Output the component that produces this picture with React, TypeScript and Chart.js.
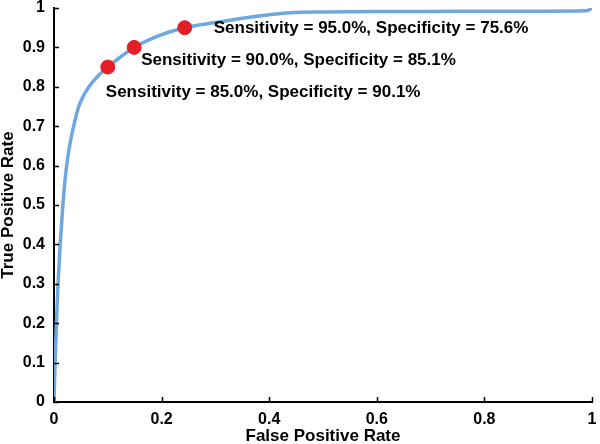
import React, { useEffect, useRef } from "react";
import { Chart, registerables } from "chart.js";

Chart.register(...registerables);

const fpr = [0, 0.001, 0.002, 0.0045, 0.0075, 0.0115, 0.0165, 0.0195, 0.0235, 0.029, 0.0365, 0.046, 0.054, 0.065, 0.08, 0.1, 0.123, 0.149, 0.195, 0.243, 0.3, 0.36, 0.4, 0.44, 0.5, 0.6, 0.7, 0.8, 0.9, 0.99, 1];
const tpr = [0, 0.05, 0.1, 0.2, 0.3, 0.4, 0.5, 0.55, 0.6, 0.65, 0.7, 0.75, 0.775, 0.8, 0.825, 0.85, 0.875, 0.9, 0.93, 0.95, 0.963, 0.976, 0.983, 0.988, 0.99, 0.991, 0.991, 0.992, 0.992, 0.993, 1.0];

const opX = [0.1, 0.149, 0.243];
const opY = [0.85, 0.9, 0.95];
const opLabels = [
  "Sensitivity = 85.0%, Specificity = 90.1%",
  "Sensitivity = 90.0%, Specificity = 85.1%",
  "Sensitivity = 95.0%, Specificity = 75.6%",
];

const xTicks = [0, 0.2, 0.4, 0.6, 0.8, 1];
const yTicks = [0, 0.1, 0.2, 0.3, 0.4, 0.5, 0.6, 0.7, 0.8, 0.9, 1];

const FONT = "'Liberation Sans', Arial, Helvetica, sans-serif";
const labelOffsets = [
  [-2, 25],
  [7, 12.5],
  [29, 1],
];

const annotPlugin = {
  id: "annot",
  afterDatasetsDraw(chart: any) {
    const ctx = chart.ctx;
    const xs = chart.scales.x;
    const ys = chart.scales.y;
    ctx.save();
    ctx.font = `bold 17px ${FONT}`;
    ctx.fillStyle = "#000";
    ctx.textBaseline = "middle";
    ctx.textAlign = "left";
    opLabels.forEach((t, i) => {
      const px = xs.getPixelForValue(opX[i]);
      const py = ys.getPixelForValue(opY[i]);
      ctx.fillText(t, px + labelOffsets[i][0], py + labelOffsets[i][1]);
    });
    ctx.strokeStyle = "#000";
    ctx.lineWidth = 1.5;
    const bottom = chart.chartArea.bottom;
    const left = chart.chartArea.left;
    xTicks.forEach((v) => {
      const p = Math.round(xs.getPixelForValue(v)) + 0.5;
      ctx.beginPath();
      ctx.moveTo(p, bottom);
      ctx.lineTo(p, bottom - 5);
      ctx.stroke();
    });
    yTicks.forEach((v) => {
      const p = Math.round(ys.getPixelForValue(v)) + 0.5;
      ctx.beginPath();
      ctx.moveTo(left, p);
      ctx.lineTo(left + 5, p);
      ctx.stroke();
    });
    ctx.restore();
  },
};

export default function App() {
  const ref = useRef<HTMLCanvasElement>(null);
  useEffect(() => {
    if (!ref.current) return;
    const chart = new Chart(ref.current, {
      type: "scatter",
      data: {
        datasets: [
          {
            label: "Operating points",
            data: opX.map((x, i) => ({ x, y: opY[i] })),
            backgroundColor: "#e41e26",
            borderColor: "#e41e26",
            pointRadius: 7,
            pointHoverRadius: 7,
            showLine: false,
          },
          {
            label: "ROC",
            data: fpr.map((x, i) => ({ x, y: tpr[i] })),
            borderColor: "#6fa8dc",
            backgroundColor: "#6fa8dc",
            borderWidth: 3.5,
            pointRadius: 0,
            showLine: true,
            cubicInterpolationMode: "monotone",
          },
        ],
      },
      options: {
        animation: false,
        responsive: false,
        maintainAspectRatio: false,
        layout: { padding: { top: 6, right: 3, left: 0, bottom: 0 } },
        plugins: { legend: { display: false }, tooltip: { enabled: false } },
        scales: {
          x: {
            type: "linear",
            min: 0,
            max: 1,
            afterBuildTicks: (s: any) => {
              s.ticks = xTicks.map((v) => ({ value: v }));
            },
            afterFit: (s: any) => {
              s.height = 46;
              s.paddingLeft = 0;
              s.paddingRight = 0;
            },
            grid: { display: false, drawTicks: false },
            border: { display: true, color: "#000", width: 2 },
            ticks: {
              color: "#000",
              font: { family: FONT, size: 16, weight: "bold" },
              padding: 8,
              maxRotation: 0,
              callback: (v: any) => String(v),
            },
            title: {
              display: true,
              text: "False Positive Rate",
              color: "#000",
              font: { family: FONT, size: 17, weight: "bold", lineHeight: 1 },
              padding: { top: 0, bottom: 3 },
            },
          },
          y: {
            type: "linear",
            min: 0,
            max: 1,
            afterBuildTicks: (s: any) => {
              s.ticks = yTicks.map((v) => ({ value: v }));
            },
            afterFit: (s: any) => {
              s.width = 54;
              s.paddingTop = 0;
              s.paddingBottom = 0;
            },
            grid: { display: false, drawTicks: false },
            border: { display: true, color: "#000", width: 2 },
            ticks: {
              color: "#000",
              font: { family: FONT, size: 16, weight: "bold" },
              padding: 9,
              callback: (v: any) => String(v),
            },
            title: {
              display: true,
              text: "True Positive Rate",
              color: "#000",
              font: { family: FONT, size: 17, weight: "bold", lineHeight: 1 },
              padding: { top: 0, bottom: 0 },
            },
          },
        },
      },
      plugins: [annotPlugin],
    } as any);
    return () => chart.destroy();
  }, []);
  return (
    <div style={{ position: "fixed", left: 0, top: 0, width: 600, height: 444, overflow: "hidden", background: "#fff" }}>
      <canvas ref={ref} width={600} height={448} style={{ width: 600, height: 448, display: "block" }} />
    </div>
  );
}
